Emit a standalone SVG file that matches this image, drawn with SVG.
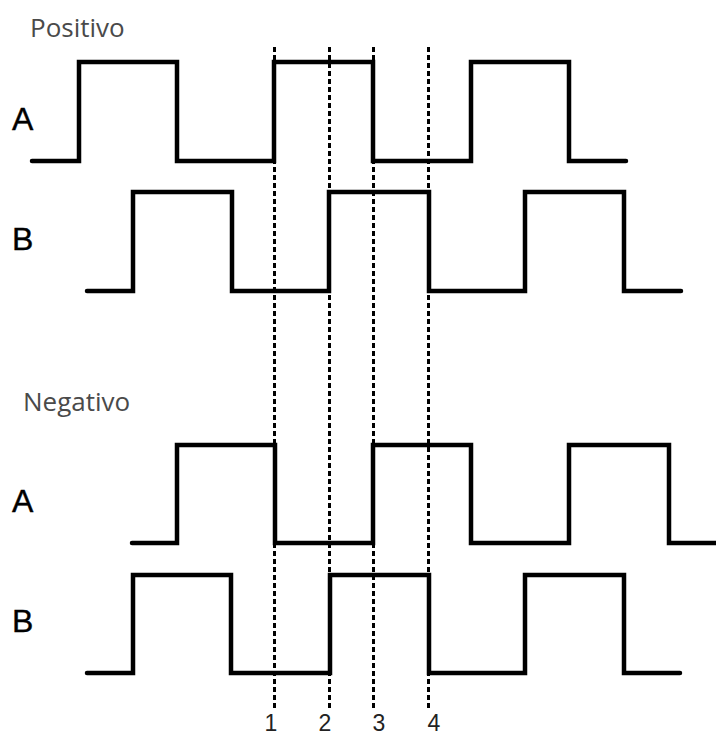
<svg xmlns="http://www.w3.org/2000/svg" width="716" height="736" viewBox="0 0 716 736">
<style>
.wave{fill:none;stroke:#000;stroke-width:4.5;stroke-linejoin:miter;stroke-linecap:round}
.guide{fill:none;stroke:#000;stroke-width:3;stroke-dasharray:5 3}
.title{font-family:"Open Sans","Noto Sans",sans-serif;font-size:26px;fill:#4a4a4a}
.sig{font-family:"Liberation Sans",Arial,sans-serif;font-size:32px;fill:#000;stroke:#000;stroke-width:0.4}
.num{font-family:"Liberation Sans",Arial,sans-serif;font-size:23px;fill:#222}
</style>
<rect width="716" height="736" fill="#fff"/>
<g id="positivo">
<text class="title" x="30" y="37">Positivo</text>
<text class="sig" x="12" y="130">A</text>
<text class="sig" x="12" y="250">B</text>
<path id="pos-A" class="wave" d="M32,161 H79 V62 H177 V161 H274 V62 H373 V161 H471 V62 H569 V161 H626"/>
<path id="pos-B" class="wave" d="M87,291 H133 V192 H232 V291 H329 V192 H429 V291 H525 V192 H624 V291 H681"/>
</g>
<g id="negativo">
<text class="title" x="23" y="411">Negativo</text>
<text class="sig" x="12" y="512">A</text>
<text class="sig" x="12" y="632">B</text>
<path id="neg-A" class="wave" d="M132,543 H177 V445 H275 V543 H373 V445 H471 V543 H569 V445 H669 V543 H716"/>
<path id="neg-B" class="wave" d="M87,673 H133 V575 H231 V673 H330 V575 H429 V673 H525 V575 H624 V673 H680"/>
</g>
<g id="guides">
<line class="guide" x1="274.5" y1="47" x2="274.5" y2="710"/>
<line class="guide" x1="329.5" y1="47" x2="329.5" y2="710"/>
<line class="guide" x1="373.5" y1="47" x2="373.5" y2="710"/>
<line class="guide" x1="428.5" y1="47" x2="428.5" y2="710"/>
<text class="num" x="271" y="731" text-anchor="middle">1</text>
<text class="num" x="325" y="731" text-anchor="middle">2</text>
<text class="num" x="379" y="731" text-anchor="middle">3</text>
<text class="num" x="434" y="731" text-anchor="middle">4</text>
</g>
</svg>
